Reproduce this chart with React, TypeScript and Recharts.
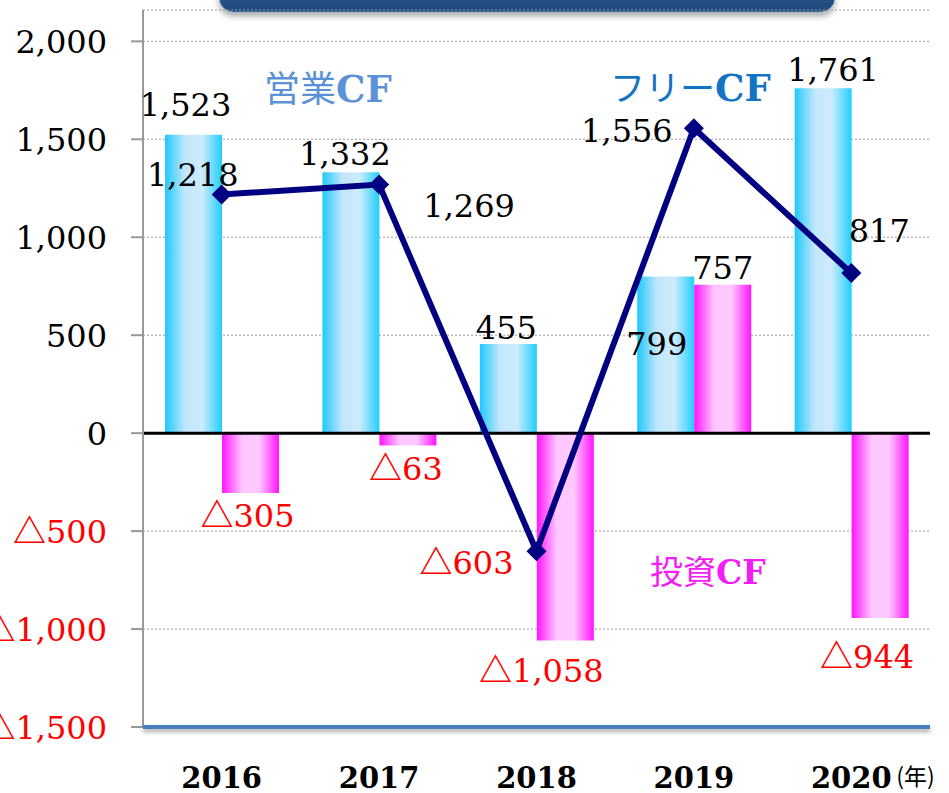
import React from "react";
import {
  ComposedChart,
  Bar,
  Line,
  XAxis,
  YAxis,
  CartesianGrid,
  ReferenceLine,
  LabelList,
} from "recharts";

// ---- data ----
const years = ["2016", "2017", "2018", "2019", "2020"];
const operatingCF = [1523, 1332, 455, 799, 1761];
const investingCF = [-305, -63, -1058, 757, -944];
const freeCF = [1218, 1269, -603, 1556, 817];
const yTicks = [-1500, -1000, -500, 0, 500, 1000, 1500, 2000];

const data = years.map((y, i) => ({
  year: y,
  op: operatingCF[i],
  inv: investingCF[i],
  free: freeCF[i],
}));

// ---- label placement (style: offsets of the label centre from its mark) ----
const opOffsets = [
  [-8, -30],
  [-6, -19],
  [-2, -17],
  [-9, 67],
  [10, -19],
];
const invOffsets = [
  [-3, 23],
  [-2, 23],
  [-24, 30],
  [0, -17],
  [-13, 38],
];
const freeOffsets = [
  [-29, -20],
  [90, 21],
  [-70, 11],
  [-67, 2],
  [28, -43],
];

const SERIF = "'DejaVu Serif', 'Liberation Serif', serif";
const CJK = "'Noto Sans CJK JP', 'Noto Sans', sans-serif";
const FS = 32;
const AXIS_Y = 727;

const num = (v: number) => Math.abs(v).toLocaleString("en-US");

const ValueText = ({ x, y, v, anchor }: { x: number; y: number; v: number; anchor: string }) => (
  <text
    x={x}
    y={y}
    textAnchor={anchor as any}
    fontFamily={SERIF}
    fontSize={FS}
    fill={v < 0 ? "#ff0000" : "#000000"}
  >
    {v < 0 ? (
      <tspan fontFamily={CJK} fontWeight="bold" fontSize={FS + 1}>
        △
      </tspan>
    ) : null}
    <tspan>{num(v)}</tspan>
  </text>
);

const makeBarLabel = (offsets: number[][]) => (props: any) => {
  const { x, y, width, height, value, index } = props;
  const top = Math.min(y, y + height);
  const bottom = Math.max(y, y + height);
  const cx = x + width / 2;
  const ay = value >= 0 ? top : bottom;
  const [dx, dy] = offsets[index];
  return <ValueText x={cx + dx} y={ay + dy + FS * 0.36} v={value} anchor="middle" />;
};

const makePointLabel = (offsets: number[][]) => (props: any) => {
  const { x, y, value, index } = props;
  const [dx, dy] = offsets[index];
  return <ValueText x={x + dx} y={y + dy + FS * 0.36} v={value} anchor="middle" />;
};

const YTick = (props: any) => {
  const { x, y, payload } = props;
  return <ValueText x={x} y={y + FS * 0.36} v={payload.value} anchor="end" />;
};

const XTick = (props: any) => {
  const { x, payload, index } = props;
  return (
    <g>
      <text
        x={x}
        y={AXIS_Y + 61}
        textAnchor="middle"
        fontFamily={SERIF}
        fontWeight="bold"
        fontSize={29}
        fill="#000"
      >
        {payload.value}
      </text>
      {index === years.length - 1 ? (
        <text
          x={x + 45}
          y={AXIS_Y + 58}
          textAnchor="start"
          fontFamily={CJK}
          fontSize={23}
          fill="#000"
        >
          (年)
        </text>
      ) : null}
    </g>
  );
};

const Diamond = (props: any) => {
  const { cx, cy } = props;
  if (cx == null || cy == null) return null;
  const r = 10;
  return (
    <path
      d={`M${cx},${cy - r}L${cx + r},${cy}L${cx},${cy + r}L${cx - r},${cy}Z`}
      fill="#000080"
      stroke="none"
    />
  );
};

const annStyle = (left: number, top: number, color: string): React.CSSProperties => ({
  position: "absolute",
  left,
  top,
  color,
  lineHeight: "40px",
  whiteSpace: "nowrap",
});

export default function App() {
  return (
    <div
      style={{
        position: "absolute",
        left: 0,
        top: 0,
        width: 949,
        height: 793,
        background: "#ffffff",
        overflow: "hidden",
      }}
    >
      <svg width={0} height={0} style={{ position: "absolute" }}>
        <defs>
          <linearGradient id="gradBlue" x1="0" y1="0" x2="1" y2="0">
            <stop offset="0%" stopColor="#1ec8fa" />
            <stop offset="35%" stopColor="#c2e7fc" />
            <stop offset="65%" stopColor="#cdebfc" />
            <stop offset="100%" stopColor="#20cffe" />
          </linearGradient>
          <linearGradient id="gradPink" x1="0" y1="0" x2="1" y2="0">
            <stop offset="0%" stopColor="#ff14ff" />
            <stop offset="35%" stopColor="#ffc6ff" />
            <stop offset="65%" stopColor="#ffcaff" />
            <stop offset="100%" stopColor="#ff14ff" />
          </linearGradient>
          <filter
            id="axShadow"
            filterUnits="userSpaceOnUse"
            x="0"
            y="690"
            width="949"
            height="80"
          >
            <feDropShadow dx="0" dy="3" stdDeviation="2" floodColor="#000" floodOpacity="0.35" />
          </filter>
        </defs>
      </svg>

      {/* title box (cut off at top) */}
      <div
        style={{
          position: "absolute",
          left: 219,
          top: -20,
          width: 614,
          height: 30,
          background: "linear-gradient(#2c5a92, #1f4a7c)",
          border: "1px solid #3b6aa3",
          borderRadius: 14,
          boxShadow: "0 4px 6px rgba(0,0,0,0.35)",
        }}
      />

      <div style={{ position: "absolute", left: 0, top: 0 }}>
        <ComposedChart
          width={949}
          height={793}
          data={data}
          margin={{ top: 10, right: 19, bottom: 0, left: 0 }}
          barCategoryGap="14%"
          barGap={0}
        >
          <CartesianGrid vertical={false} stroke="#9a9a9a" strokeDasharray="2 2" />
          <YAxis
            type="number"
            domain={[-1500, 2160]}
            ticks={yTicks}
            width={143}
            axisLine={{ stroke: "#999999", strokeWidth: 2 }}
            tickLine={{ stroke: "#999999", strokeWidth: 2 }}
            tickSize={12}
            tickMargin={24}
            tick={<YTick />}
            interval={0}
            allowDataOverflow
          />
          <XAxis
            dataKey="year"
            height={66}
            axisLine={{ stroke: "#4a7ebb", strokeWidth: 4, filter: "url(#axShadow)" }}
            tickLine={false}
            tickSize={0}
            tickMargin={0}
            tick={<XTick />}
            interval={0}
          />
          <ReferenceLine y={0} stroke="#000000" strokeWidth={3} />
          <Bar dataKey="op" fill="url(#gradBlue)" isAnimationActive={false}>
            <LabelList dataKey="op" content={makeBarLabel(opOffsets)} />
          </Bar>
          <Bar dataKey="inv" fill="url(#gradPink)" isAnimationActive={false}>
            <LabelList dataKey="inv" content={makeBarLabel(invOffsets)} />
          </Bar>
          <Line
            dataKey="free"
            type="linear"
            stroke="#000080"
            strokeWidth={6}
            dot={<Diamond />}
            activeDot={false}
            isAnimationActive={false}
          >
            <LabelList dataKey="free" content={makePointLabel(freeOffsets)} />
          </Line>
        </ComposedChart>
      </div>

      <div style={annStyle(264, 66, "#5b91d6")}>
        <span style={{ fontFamily: CJK, fontSize: 36 }}>営業</span>
        <span style={{ fontFamily: SERIF, fontWeight: "bold", fontSize: 37 }}>CF</span>
      </div>
      <div style={annStyle(610, 66, "#1573c4")}>
        <span style={{ fontFamily: CJK, fontSize: 35 }}>フリー</span>
        <span style={{ fontFamily: SERIF, fontWeight: "bold", fontSize: 37 }}>CF</span>
      </div>
      <div style={annStyle(650, 550, "#f41cf4")}>
        <span style={{ fontFamily: CJK, fontSize: 33 }}>投資</span>
        <span style={{ fontFamily: SERIF, fontWeight: "bold", fontSize: 33 }}>CF</span>
      </div>
    </div>
  );
}
